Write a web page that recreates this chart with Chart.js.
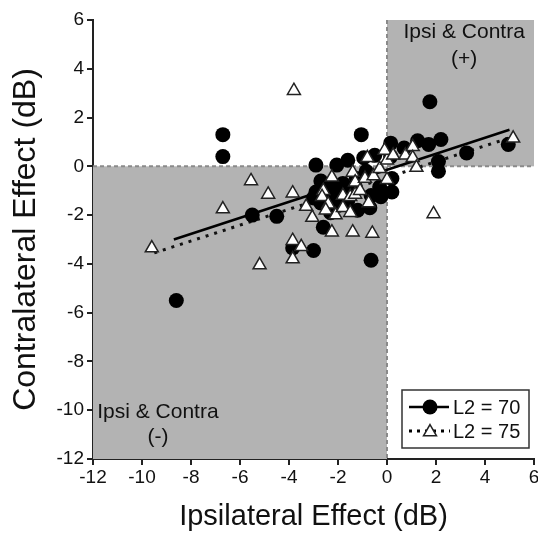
<!DOCTYPE html>
<html><head><meta charset="utf-8">
<script src="https://cdn.jsdelivr.net/npm/chart.js@4/dist/chart.umd.min.js"></script>
<style>html,body{margin:0;padding:0;background:#fff;}canvas{display:block;}</style>
</head><body>
<canvas id="c" width="538" height="539"></canvas>
<script>
// ---- data ----
const xTicks = [-12,-10,-8,-6,-4,-2,0,2,4,6];
const yTicks = [-12,-10,-8,-6,-4,-2,0,2,4,6];
const xTitle = 'Ipsilateral Effect (dB)';
const yTitle = 'Contralateral Effect (dB)';
const seriesLabels = ['L2 = 70', 'L2 = 75'];

const l2_70_x = [-8.6,-6.7,-6.7,-5.5,-4.5,-3.85,-3.0,-2.6,-0.65,-2.9,-2.05,-1.6,-1.05,-0.95,-0.5,0.15,0.15,0.7,1.25,1.7,2.2,1.75,3.25,4.95,2.1,2.1,-2.7,-2.2,-2.9,-1.8,-1.25,-0.85,-0.25,-0.3,0.2,0.2,-1.85,-1.4,-0.65,-0.7,-2.4,-2.0,-1.6,-2.7,-1.2,-3.0,-2.3];
const l2_70_y = [-5.5,1.3,0.4,-2.0,-2.05,-3.35,-3.45,-2.5,-3.85,0.05,0.05,0.25,1.3,0.35,0.45,0.95,0.4,0.75,1.05,0.9,1.1,2.65,0.55,0.9,0.2,-0.2,-0.6,-0.85,-1.05,-0.7,-0.5,-0.2,-1.25,-0.85,-1.05,-0.5,-1.2,-1.05,-1.2,-1.7,-1.3,-1.6,-1.4,-1.5,-1.8,-1.3,-1.9];

const l2_75_x = [-9.6,-6.7,-5.55,-4.85,-3.85,-3.8,-5.2,-3.85,-3.5,-3.85,-3.3,-3.05,-2.6,-2.25,-2.65,-2.4,-2.5,-2.1,-1.8,-1.8,-1.5,-1.5,-1.4,-1.3,-1.3,-1.1,-0.9,-0.8,-0.75,-0.55,-0.3,0.0,0.0,-0.1,0.25,0.75,1.05,1.05,1.2,5.15,1.9,-2.25,-1.4,-0.6];
const l2_75_y = [-3.35,-1.75,-0.6,-1.15,-1.1,3.1,-4.05,-3.05,-3.3,-3.8,-1.65,-2.1,-1.0,-0.45,-1.25,-1.55,-1.8,-2.0,-1.2,-1.7,-1.25,-1.9,-0.25,-0.65,-1.15,-1.0,-0.5,0.35,-1.5,-0.4,-0.1,-0.55,0.25,0.65,0.45,0.45,0.8,0.35,-0.05,1.15,-1.95,-2.7,-2.7,-2.75];

const fit70_x = [-8.7, 5.0];
const fit70_y = [-3.0, 1.5];
const fit75_x = [-9.5, 5.1];
const fit75_y = [-3.55, 1.2];

// shaded quadrants
const quadrantX = [[-12, 0], [0, 6]];
const quadrantY = [[-12, 0], [0, 6]];
const quadrantText = [['Ipsi & Contra', '(-)'], ['Ipsi & Contra', '(+)']];

// ---- helpers ----
const pts = (xs, ys) => xs.map((x, i) => ({x, y: ys[i]}));
const FONT = "'Liberation Sans', Arial, sans-serif";

const bgPlugin = {
  id: 'bg',
  beforeDatasetsDraw(chart) {
    const {ctx, scales: {x, y}} = chart;
    ctx.save();
    ctx.fillStyle = '#b3b3b3';
    for (let i = 0; i < quadrantX.length; i++) {
      const x0 = x.getPixelForValue(quadrantX[i][0]), x1 = x.getPixelForValue(quadrantX[i][1]);
      const y0 = y.getPixelForValue(quadrantY[i][0]), y1 = y.getPixelForValue(quadrantY[i][1]);
      ctx.fillRect(Math.min(x0,x1), Math.min(y0,y1), Math.abs(x1-x0), Math.abs(y1-y0));
    }
    ctx.strokeStyle = '#8a8a8a';
    ctx.lineWidth = 2;
    ctx.setLineDash([4, 3]);
    const zx = x.getPixelForValue(0), zy = y.getPixelForValue(0);
    ctx.beginPath();
    ctx.moveTo(zx, y.getPixelForValue(6)); ctx.lineTo(zx, y.getPixelForValue(-12));
    ctx.moveTo(x.getPixelForValue(-12), zy); ctx.lineTo(x.getPixelForValue(6), zy);
    ctx.stroke();
    ctx.setLineDash([]);
    ctx.fillStyle = '#111';
    ctx.font = '21px ' + FONT;
    ctx.textAlign = 'center';
    ctx.textBaseline = 'middle';
    const pos = [[-9.35, -10.1, -11.1], [3.15, 5.5, 4.4]];
    for (let i = 0; i < 2; i++) {
      const px = x.getPixelForValue(pos[i][0]);
      ctx.fillText(quadrantText[i][0], px, y.getPixelForValue(pos[i][1]));
      ctx.fillText(quadrantText[i][1], px, y.getPixelForValue(pos[i][2]));
    }
    ctx.restore();
  }
};

const legendPlugin = {
  id: 'customLegend',
  afterDraw(chart) {
    const {ctx, chartArea: ca} = chart;
    const bx = ca.right - 132, by = ca.bottom - 69, bw = 127, bh = 58;
    ctx.save();
    ctx.fillStyle = '#fff';
    ctx.fillRect(bx, by, bw, bh);
    ctx.strokeStyle = '#333';
    ctx.lineWidth = 1.5;
    ctx.strokeRect(bx, by, bw, bh);
    const rows = [by + 17, by + 41];
    ctx.strokeStyle = '#000'; ctx.lineWidth = 2.5;
    ctx.beginPath(); ctx.moveTo(bx + 7, rows[0]); ctx.lineTo(bx + 47, rows[0]); ctx.stroke();
    ctx.fillStyle = '#000';
    ctx.beginPath(); ctx.arc(bx + 28, rows[0], 7.5, 0, Math.PI * 2); ctx.fill();
    ctx.setLineDash([3, 5]); ctx.lineWidth = 3;
    ctx.beginPath(); ctx.moveTo(bx + 7, rows[1]); ctx.lineTo(bx + 48, rows[1]); ctx.stroke();
    ctx.setLineDash([]);
    const tx = bx + 28, ty = rows[1] + 1, r = 7.5;
    ctx.fillStyle = '#fff'; ctx.strokeStyle = '#222'; ctx.lineWidth = 1.5;
    ctx.beginPath();
    ctx.moveTo(tx, ty - r);
    ctx.lineTo(tx + r * 0.866, ty + r * 0.5);
    ctx.lineTo(tx - r * 0.866, ty + r * 0.5);
    ctx.closePath(); ctx.fill(); ctx.stroke();
    ctx.fillStyle = '#111';
    ctx.font = '20px ' + FONT;
    ctx.textAlign = 'left'; ctx.textBaseline = 'middle';
    ctx.fillText(seriesLabels[0], bx + 51, rows[0] + 1);
    ctx.fillText(seriesLabels[1], bx + 51, rows[1] + 1);
    ctx.restore();
  }
};

new Chart(document.getElementById('c'), {
  type: 'scatter',
  data: {
    datasets: [
      {
        label: seriesLabels[1], data: pts(l2_75_x, l2_75_y), order: 0,
        pointStyle: 'triangle', pointRadius: 7.5, backgroundColor: '#fff',
        borderColor: '#222', borderWidth: 1.5
      },
      {
        label: seriesLabels[0], data: pts(l2_70_x, l2_70_y), order: 1,
        pointStyle: 'circle', pointRadius: 7.5, backgroundColor: '#000',
        borderColor: '#000', borderWidth: 0
      },
      {
        label: 'fit70', type: 'line', data: pts(fit70_x, fit70_y), order: 2,
        borderColor: '#000', borderWidth: 2.5, pointRadius: 0, showLine: true
      },
      {
        label: 'fit75', type: 'line', data: pts(fit75_x, fit75_y), order: 3,
        borderColor: '#111', borderWidth: 3, borderDash: [3, 6], pointRadius: 0, showLine: true
      }
    ]
  },
  options: {
    responsive: false,
    animation: false,
    layout: {autoPadding: false, padding: {top: 20, right: 4, left: 0, bottom: 0}},
    plugins: {legend: {display: false}, tooltip: {enabled: false}},
    scales: {
      x: {
        type: 'linear', min: -12, max: 6,
        afterBuildTicks: s => { s.ticks = xTicks.map(v => ({value: v})); },
        afterFit: s => { s.height = 80; s.paddingLeft = 0; s.paddingRight = 0; },
        border: {display: true, color: '#222', width: 2},
        grid: {drawOnChartArea: false, drawTicks: true, tickLength: 6, color: '#222', lineWidth: 2},
        ticks: {color: '#111', font: {family: FONT, size: 19}, padding: 1, maxRotation: 0, autoSkip: false},
        title: {display: true, text: xTitle, color: '#111', font: {family: FONT, size: 29}, padding: {top: 0, bottom: 5}}
      },
      y: {
        type: 'linear', min: -12, max: 6,
        afterBuildTicks: s => { s.ticks = yTicks.map(v => ({value: v})); },
        afterFit: s => { s.width = 93; },
        border: {display: true, color: '#222', width: 2},
        grid: {drawOnChartArea: false, drawTicks: true, tickLength: 6, color: '#222', lineWidth: 2},
        ticks: {color: '#111', font: {family: FONT, size: 19}, padding: 3, autoSkip: false},
        title: {display: true, text: yTitle, color: '#111', font: {family: FONT, size: 32}, padding: {top: 7, bottom: 0}}
      }
    }
  },
  plugins: [bgPlugin, legendPlugin]
});
</script>
</body></html>
